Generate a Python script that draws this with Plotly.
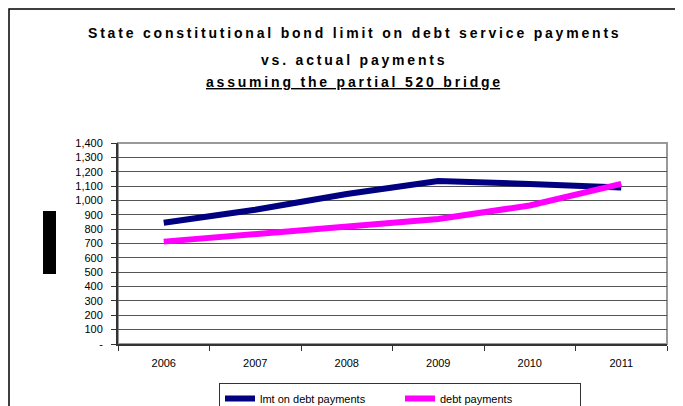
import plotly.graph_objects as go

years = ["2006", "2007", "2008", "2009", "2010", "2011"]
limit_payments = [845, 935, 1045, 1135, 1115, 1090]
debt_payments = [713, 765, 815, 870, 965, 1115]
y_tick_vals = [0, 100, 200, 300, 400, 500, 600, 700, 800, 900, 1000, 1100, 1200, 1300, 1400]
y_tick_text = ["-", "100", "200", "300", "400", "500", "600", "700", "800", "900",
               "1,000", "1,100", "1,200", "1,300", "1,400"]
title_lines = ["State constitutional bond limit on debt service payments",
               "vs. actual payments",
               "assuming the partial 520 bridge"]

# figure is placed at (8,8) in the page by the default body margin
W, H = 675, 398
L, R, T, B = 110, 16, 135, 62
PW, PH = W - L - R, H - T - B


def px(xf):
    return (xf - L) / PW


def py(yf):
    return (H - B - yf) / PH


def spaced(s):
    return "\u2009".join(list(s))


fig = go.Figure()
fig.add_trace(go.Scatter(x=years, y=limit_payments, mode="lines",
                         name="lmt on debt payments",
                         line=dict(color="#000080", width=6)))
fig.add_trace(go.Scatter(x=years, y=debt_payments, mode="lines",
                         name="debt payments",
                         line=dict(color="#FF00FF", width=6)))

fig.update_layout(
    width=W, height=H,
    margin=dict(l=L, r=R, t=T, b=B, autoexpand=False),
    paper_bgcolor="white", plot_bgcolor="white",
    font=dict(family="Arial, Liberation Sans, sans-serif", size=11, color="black"),
    showlegend=True,
    legend=dict(orientation="h", x=px(211), xanchor="left", xref="paper",
                y=py(375), yanchor="top",
                bordercolor="#333", borderwidth=1, bgcolor="white",
                font=dict(size=11), entrywidth=135, entrywidthmode="pixels"),
)

title_y = [25, 52, 74]
for i, (line, yy) in enumerate(zip(title_lines, title_y)):
    txt = "<b>" + spaced(line) + "</b>"
    if i == 2:
        txt = "<b><u>" + spaced(line) + "</u></b>"
    fig.add_annotation(text=txt, xref="paper", yref="paper",
                       x=px(345), y=py(yy), xanchor="center", yanchor="middle",
                       showarrow=False,
                       font=dict(family="Arial, Liberation Sans, sans-serif",
                                 size=14, color="black"))

fig.update_xaxes(type="category", range=[-0.5, 5.5], showgrid=False,
                 showline=True, linecolor="#333", linewidth=2,
                 ticks="outside", tickson="boundaries", ticklen=5,
                 tickcolor="#333", tickfont=dict(size=11), zeroline=False,
                 ticklabelstandoff=8)
fig.update_yaxes(range=[0, 1400], tickvals=y_tick_vals, ticktext=y_tick_text,
                 showgrid=True, gridcolor="#555", gridwidth=1,
                 showline=True, linecolor="#333", linewidth=2,
                 ticks="outside", ticklen=5, tickcolor="#333",
                 tickfont=dict(size=11), zeroline=False,
                 ticklabelstandoff=6)

# plot area border (gray right/top) and outer chart frame
fig.add_shape(type="rect", xref="paper", yref="paper", x0=0, x1=1, y0=0, y1=1,
              line=dict(color="#999", width=2), layer="below")
fig.add_shape(type="rect", xref="paper", yref="paper",
              x0=px(1), x1=px(W + 40), y0=py(H + 40), y1=py(1),
              line=dict(color="black", width=1.5))
# black block where the y-axis title is rendered
fig.add_shape(type="rect", xref="paper", yref="paper",
              x0=px(35), x1=px(48), y0=py(266), y1=py(203),
              fillcolor="black", line=dict(width=0))

fig.write_html("out.html")
